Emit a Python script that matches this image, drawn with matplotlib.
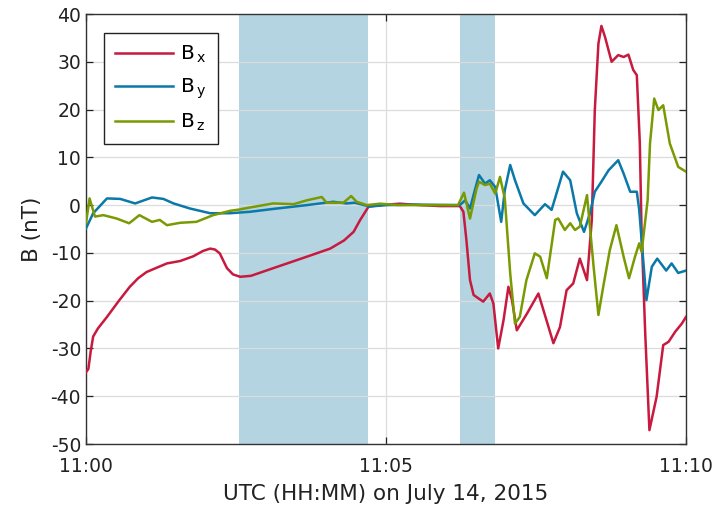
import matplotlib
matplotlib.use("Agg")
import matplotlib.pyplot as plt

# (minutes after 11:00 UTC, nT)
bx_points = [(0.0, -35.0), (0.04, -34.3), (0.08, -30.5), (0.12, -27.5), (0.2, -25.8),
             (0.35, -23.4), (0.55, -20.0), (0.73, -17.1), (0.87, -15.3), (1.01, -14.0),
             (1.35, -12.2), (1.57, -11.7), (1.79, -10.7), (1.95, -9.6), (2.07, -9.1),
             (2.15, -9.3), (2.23, -10.1), (2.35, -13.2), (2.45, -14.5), (2.57, -15.0),
             (2.75, -14.8), (3.12, -13.2), (3.4, -12.0), (3.68, -10.8), (4.07, -9.1),
             (4.3, -7.4), (4.46, -5.6), (4.57, -3.1), (4.71, -0.3), (4.9, 0.0),
             (5.23, 0.3), (5.57, 0.0), (5.9, -0.2), (6.23, -0.2), (6.29, -1.4),
             (6.34, -7.3), (6.4, -15.7), (6.46, -18.8), (6.55, -19.6), (6.62, -20.2),
             (6.73, -18.5), (6.79, -20.6), (6.87, -30.0), (6.96, -24.0), (7.04, -17.1),
             (7.1, -19.9), (7.18, -26.2), (7.35, -22.7), (7.54, -18.5), (7.79, -28.9),
             (7.9, -25.5), (8.01, -17.8), (8.12, -16.4), (8.23, -11.2), (8.35, -15.7),
             (8.43, -3.1), (8.48, 19.9), (8.54, 33.8), (8.59, 37.5), (8.65, 35.2),
             (8.76, 30.0), (8.87, 31.4), (8.96, 31.0), (9.04, 31.5), (9.12, 28.3),
             (9.18, 27.2), (9.23, 13.0), (9.26, -5.9), (9.32, -26.8), (9.39, -47.1),
             (9.51, -40.1), (9.62, -29.3), (9.71, -28.6), (9.82, -26.5), (9.93, -24.8),
             (10.0, -23.4)]

by_points = [(0.0, -4.9), (0.12, -1.7), (0.35, 1.4), (0.57, 1.3), (0.82, 0.35),
             (1.1, 1.6), (1.29, 1.3), (1.46, 0.35), (1.73, -0.7), (2.07, -1.7),
             (2.4, -1.7), (2.73, -1.4), (3.12, -0.8), (3.68, 0.0), (4.12, 0.7),
             (4.34, 0.35), (4.48, 0.5), (4.73, -0.3), (5.0, 0.0), (5.5, 0.1),
             (6.23, 0.0), (6.32, 1.0), (6.4, -0.7), (6.48, 3.1), (6.55, 6.3),
             (6.65, 4.5), (6.73, 5.2), (6.82, 3.8), (6.92, -3.5), (6.98, 3.1),
             (7.07, 8.4), (7.15, 5.2), (7.29, 0.35), (7.48, -2.1), (7.65, 0.2),
             (7.76, -1.0), (7.95, 7.0), (8.07, 5.2), (8.18, -1.7), (8.3, -5.6),
             (8.4, -1.7), (8.48, 2.8), (8.59, 4.9), (8.71, 7.3), (8.87, 9.4),
             (8.96, 6.6), (9.07, 2.8), (9.18, 2.8), (9.22, -1.0), (9.34, -19.9),
             (9.43, -12.9), (9.52, -11.2), (9.67, -13.7), (9.76, -12.2), (9.87, -14.2),
             (10.0, -13.7)]

bz_points = [(0.0, -3.8), (0.06, 1.4), (0.15, -2.4), (0.29, -2.1), (0.51, -2.8),
             (0.72, -3.8), (0.89, -2.1), (1.1, -3.5), (1.23, -3.1), (1.35, -4.2),
             (1.57, -3.7), (1.84, -3.5), (2.12, -2.1), (2.4, -1.2), (2.57, -0.9),
             (2.73, -0.5), (3.12, 0.35), (3.46, 0.2), (3.68, 1.0), (3.93, 1.7),
             (4.01, 0.5), (4.29, 0.5), (4.42, 1.9), (4.51, 0.7), (4.68, 0.0),
             (4.9, 0.3), (5.2, 0.0), (6.2, 0.0), (6.3, 2.6), (6.4, -2.8), (6.51, 3.5),
             (6.55, 4.9), (6.65, 4.2), (6.73, 4.5), (6.82, 2.4), (6.9, 5.9),
             (6.98, 1.4), (7.07, -14.3), (7.15, -24.8), (7.23, -23.4), (7.34, -15.7),
             (7.48, -10.1), (7.57, -10.8), (7.68, -15.3), (7.82, -3.1), (7.87, -2.8),
             (7.98, -5.2), (8.07, -3.8), (8.15, -5.2), (8.23, -4.5), (8.35, 2.1),
             (8.46, -12.9), (8.54, -23.0), (8.62, -17.1), (8.73, -9.4), (8.84, -4.2),
             (8.96, -10.8), (9.05, -15.3), (9.15, -10.8), (9.22, -8.0), (9.26, -9.8),
             (9.36, 1.0), (9.4, 12.9), (9.47, 22.3), (9.54, 19.9), (9.62, 20.9),
             (9.73, 12.9), (9.87, 8.0), (10.0, 7.0)]

shade_regions = [(2.55, 4.7), (6.23, 6.82)]
x_ticks = [0, 5, 10]
x_labels = ["11:00", "11:05", "11:10"]
y_ticks = [-50, -40, -30, -20, -10, 0, 10, 20, 30, 40]
series_labels = [r'B$_{\,\mathregular{x}}$', r'B$_{\,\mathregular{y}}$', r'B$_{\,\mathregular{z}}$']
series_colors = ['#c8193f', '#0a78a8', '#799a02']

plt.rcParams['font.family'] = ['DejaVu Sans']
plt.rcParams['axes.unicode_minus'] = False
plt.rcParams['mathtext.default'] = 'regular'
fig = plt.figure(figsize=(7.2, 5.13), dpi=100)
ax = fig.add_axes([0.1194, 0.1345, 0.8334, 0.8382])

for a, b in shade_regions:
    ax.axvspan(a, b, color='#b3d4e0', lw=0, zorder=1)

for pts, lab, col in zip([bx_points, by_points, bz_points], series_labels, series_colors):
    t, v = zip(*pts)
    ax.plot(t, v, color=col, lw=1.8, label=lab, zorder=3, solid_joinstyle='round')

ax.set_xlim(0, 10)
ax.set_ylim(-50, 40)
ax.set_xticks(x_ticks)
ax.set_xticklabels(x_labels)
ax.set_yticks(y_ticks)
ax.set_axisbelow('line')
ax.grid(True, color='#dcdcdc', lw=0.9)
ax.tick_params(direction='in', length=5, width=0.9, top=True, right=True,
               labelsize=13.5, colors='#222222')
ax.tick_params(axis='x', pad=9)
for s in ax.spines.values():
    s.set_color('#333333')
    s.set_linewidth(1.0)

ax.set_xlabel('UTC (HH:MM) on July 14, 2015', fontsize=15.5, color='#222222', labelpad=6)
ax.set_ylabel('B (nT)', fontsize=15.5, color='#222222', labelpad=6)

leg = ax.legend(loc='upper left', bbox_to_anchor=(0.03, 0.956), borderaxespad=0,
                fontsize=14.5, fancybox=False, edgecolor='#222222', framealpha=1,
                handlelength=2.9, handletextpad=0.35, borderpad=0.55, labelspacing=0.55)
leg.get_frame().set_linewidth(1.0)

fig.savefig('out.png', dpi=100)
